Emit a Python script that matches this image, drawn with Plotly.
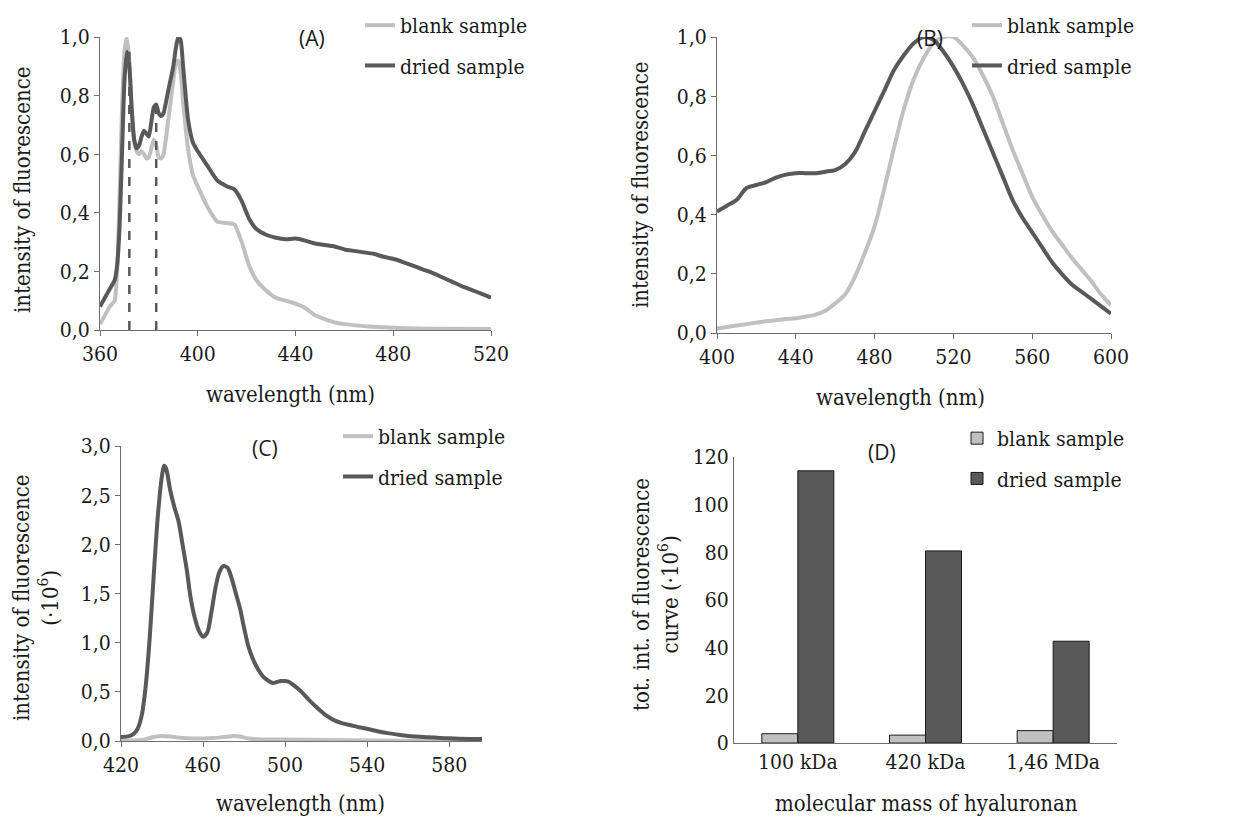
import plotly.graph_objects as go

# ---------------- Panel A data ----------------
a_wl_dried = [360, 362, 364, 366, 367, 368, 369, 370, 371, 372, 373, 374, 375, 376, 377, 378, 379, 380,
              381, 382, 383, 384, 385, 386, 388, 390, 391, 392, 393, 394, 396, 398, 400, 404, 408, 412,
              415, 418, 421, 424, 428, 432, 436, 440, 444, 448, 452, 456, 460, 464, 468, 472, 476, 480,
              484, 488, 492, 496, 500, 504, 508, 512, 516, 520]
a_dried = [0.08, 0.11, 0.14, 0.17, 0.22, 0.35, 0.6, 0.85, 0.95, 0.9, 0.75, 0.65, 0.62, 0.63, 0.66, 0.68, 0.67, 0.66,
           0.71, 0.76, 0.77, 0.74, 0.73, 0.74, 0.82, 0.9, 0.96, 1.0, 0.99, 0.9, 0.72, 0.64, 0.61, 0.56, 0.51, 0.49,
           0.48, 0.44, 0.38, 0.345, 0.325, 0.315, 0.31, 0.312, 0.305, 0.295, 0.29, 0.285, 0.275, 0.27, 0.265, 0.26, 0.25, 0.243,
           0.232, 0.22, 0.207, 0.195, 0.18, 0.165, 0.15, 0.137, 0.124, 0.11]
a_wl_blank = [360, 362, 364, 366, 367, 368, 369, 370, 371, 372, 373, 374, 375, 376, 377, 378, 379, 380,
              381, 382, 383, 384, 385, 386, 388, 390, 391, 392, 393, 394, 396, 398, 400, 404, 408, 412,
              415, 418, 421, 424, 428, 432, 436, 440, 444, 448, 452, 456, 460, 470, 480, 490, 500, 520]
a_blank = [0.02, 0.05, 0.08, 0.1, 0.2, 0.45, 0.75, 0.95, 1.0, 0.92, 0.75, 0.64, 0.61, 0.6, 0.61, 0.6, 0.585, 0.59,
           0.62, 0.65, 0.63, 0.59, 0.585, 0.6, 0.72, 0.85, 0.91, 0.92, 0.88, 0.78, 0.62, 0.53, 0.49, 0.42, 0.37, 0.365,
           0.36, 0.3, 0.22, 0.17, 0.135, 0.11, 0.1, 0.09, 0.075, 0.05, 0.037, 0.026, 0.02, 0.012, 0.008, 0.005, 0.004, 0.003]
a_marker_wl = [372, 383]
a_marker_top = [0.95, 0.77]

# ---------------- Panel B data ----------------
b_wl = [400, 405, 410, 415, 420, 425, 430, 435, 440, 445, 450, 455, 460, 465, 470, 475, 480, 485, 490, 495,
        500, 505, 510, 515, 520, 525, 530, 535, 540, 545, 550, 555, 560, 565, 570, 575, 580, 585, 590, 595, 600]
b_dried = [0.41, 0.43, 0.45, 0.49, 0.5, 0.51, 0.525, 0.535, 0.54, 0.54, 0.54, 0.545, 0.55, 0.57, 0.61, 0.68, 0.75, 0.82, 0.89, 0.94,
           0.98, 1.0, 0.99, 0.95, 0.9, 0.84, 0.77, 0.69, 0.61, 0.53, 0.45, 0.39, 0.34, 0.29, 0.24, 0.2, 0.165, 0.14, 0.115, 0.09, 0.065]
b_blank = [0.015, 0.02, 0.025, 0.03, 0.035, 0.04, 0.043, 0.047, 0.05, 0.055, 0.062, 0.075, 0.1, 0.13, 0.19, 0.27, 0.36, 0.49, 0.63, 0.76,
           0.86, 0.93, 0.98, 1.0, 1.0, 0.97, 0.93, 0.87, 0.8, 0.71, 0.62, 0.54, 0.46, 0.4, 0.345, 0.3, 0.255, 0.215, 0.175, 0.13, 0.094]

# ---------------- Panel C data ----------------
c_wl_dried = [420, 424, 426, 428, 430, 432, 434, 436, 438, 440, 441, 442, 444, 446, 448, 450, 452, 454, 456, 458,
              460, 462, 464, 466, 468, 470, 472, 474, 476, 478, 480, 482, 484, 486, 488, 490, 492, 494, 496, 498,
              500, 502, 504, 508, 512, 516, 520, 524, 528, 532, 536, 540, 545, 550, 555, 560, 570, 580, 590, 596]
c_dried = [0.04, 0.05, 0.07, 0.12, 0.25, 0.55, 1.05, 1.7, 2.3, 2.7, 2.8, 2.77, 2.55, 2.38, 2.24, 2.0, 1.75, 1.45, 1.25, 1.12,
           1.06, 1.1, 1.3, 1.55, 1.72, 1.78, 1.76, 1.65, 1.5, 1.35, 1.15, 0.97, 0.85, 0.76, 0.69, 0.64, 0.61, 0.59, 0.6, 0.61,
           0.61, 0.6, 0.57, 0.5, 0.41, 0.33, 0.26, 0.21, 0.18, 0.16, 0.14, 0.125, 0.1, 0.08, 0.065, 0.052, 0.038, 0.027, 0.021, 0.02]
c_wl_blank = [420, 430, 434, 436, 440, 444, 450, 455, 460, 465, 470, 475, 478, 482, 490, 500, 520, 540, 560, 596]
c_blank = [0.0, 0.01, 0.03, 0.04, 0.05, 0.045, 0.03, 0.025, 0.025, 0.03, 0.04, 0.05, 0.045, 0.025, 0.015, 0.015, 0.01, 0.005, 0.003, 0.002]

# ---------------- Panel D data ----------------
d_categories = ["100 kDa", "420 kDa", "1,46 MDa"]
d_blank = [3.9, 3.3, 5.2]
d_dried = [114.2, 80.6, 42.7]

LIGHT = "#c0c0c0"
DARK = "#595959"
AXIS = "#6e6e6e"
SERIF = "DejaVu Serif Condensed, DejaVu Serif"
SANS = "Open Sans"
OFF = 8  # page body offset
W, H = 1237 - OFF, 818 - OFF


def px_x(v):
    return (v - OFF) / W


def px_y(v):
    return 1 - (v - OFF) / H


fig = go.Figure()

# Panel A
fig.add_trace(go.Scatter(x=a_wl_blank, y=a_blank, mode="lines", name="blank sample",
                         line=dict(color=LIGHT, width=4, shape="spline", smoothing=0.5),
                         xaxis="x", yaxis="y", legend="legend", legendgroup="a1"))
fig.add_trace(go.Scatter(x=a_wl_dried, y=a_dried, mode="lines", name="dried sample",
                         line=dict(color=DARK, width=4, shape="spline", smoothing=0.5),
                         xaxis="x", yaxis="y", legend="legend", legendgroup="a2"))
for wl, top in zip(a_marker_wl, a_marker_top):
    fig.add_trace(go.Scatter(x=[wl, wl], y=[0, top], mode="lines", showlegend=False,
                             line=dict(color=DARK, width=2.5, dash="dash"), xaxis="x", yaxis="y"))

# Panel B
fig.add_trace(go.Scatter(x=b_wl, y=b_blank, mode="lines", name="blank sample",
                         line=dict(color=LIGHT, width=4, shape="spline", smoothing=0.8),
                         xaxis="x2", yaxis="y2", legend="legend2", legendgroup="b1"))
fig.add_trace(go.Scatter(x=b_wl, y=b_dried, mode="lines", name="dried sample",
                         line=dict(color=DARK, width=4, shape="spline", smoothing=0.8),
                         xaxis="x2", yaxis="y2", legend="legend2", legendgroup="b2"))

# Panel C
fig.add_trace(go.Scatter(x=c_wl_blank, y=c_blank, mode="lines", name="blank sample",
                         line=dict(color=LIGHT, width=4, shape="spline", smoothing=0.8),
                         xaxis="x3", yaxis="y3", legend="legend3", legendgroup="c1"))
fig.add_trace(go.Scatter(x=c_wl_dried, y=c_dried, mode="lines", name="dried sample",
                         line=dict(color=DARK, width=4, shape="spline", smoothing=0.8),
                         xaxis="x3", yaxis="y3", legend="legend3", legendgroup="c2"))

# Panel D
fig.add_trace(go.Bar(x=d_categories, y=d_blank, name="blank sample",
                     marker=dict(color=LIGHT, line=dict(color="#1a1a1a", width=1)),
                     xaxis="x4", yaxis="y4", legend="legend4", legendgroup="d1"))
fig.add_trace(go.Bar(x=d_categories, y=d_dried, name="dried sample",
                     marker=dict(color=DARK, line=dict(color="#1a1a1a", width=1)),
                     xaxis="x4", yaxis="y4", legend="legend4", legendgroup="d2"))

tickfont = dict(family=SERIF, size=21, color="#1a1a1a")
common_ax = dict(showline=True, linecolor=AXIS, linewidth=1, showgrid=False, zeroline=False,
                 ticks="outside", ticklen=5, tickcolor=AXIS, tickfont=tickfont, automargin=False)

legend_common = dict(font=dict(family=SERIF, size=21, color="#1a1a1a"), bgcolor="rgba(0,0,0,0)",
                     xanchor="left", yanchor="top", tracegroupgap=10, traceorder="grouped")

fig.update_layout(
    width=W, height=H, margin=dict(l=0, r=0, t=0, b=0, autoexpand=False),
    paper_bgcolor="white", plot_bgcolor="white",
    separators=", ",
    barmode="group", bargap=0.436, bargroupgap=0,
    xaxis=dict(common_ax, domain=[px_x(100), px_x(491)], range=[360, 520], dtick=40, anchor="y"),
    yaxis=dict(common_ax, domain=[px_y(330), px_y(37)], range=[0, 1], dtick=0.2, tickformat=".1f", anchor="x"),
    xaxis2=dict(common_ax, domain=[px_x(717), px_x(1111)], range=[400, 600], dtick=40, anchor="y2"),
    yaxis2=dict(common_ax, domain=[px_y(333), px_y(37)], range=[0, 1], dtick=0.2, tickformat=".1f", anchor="x2"),
    xaxis3=dict(common_ax, domain=[px_x(121), px_x(482)], range=[420, 596], tick0=420, dtick=40, anchor="y3"),
    yaxis3=dict(common_ax, domain=[px_y(741), px_y(446)], range=[0, 3], dtick=0.5, tickformat=".1f", anchor="x3"),
    xaxis4=dict(common_ax, domain=[px_x(734), px_x(1117)], ticks="", anchor="y4"),
    yaxis4=dict(common_ax, domain=[px_y(743), px_y(457)], range=[0, 120], dtick=20, ticks="", anchor="x4"),
    legend=dict(legend_common, x=px_x(360), y=px_y(5)),
    legend2=dict(legend_common, x=px_x(967), y=px_y(5)),
    legend3=dict(legend_common, x=px_x(338), y=px_y(416)),
    legend4=dict(legend_common, x=px_x(957), y=px_y(418)),
)

title_font = dict(family=SERIF, size=22, color="#1a1a1a")
panel_font = dict(family=SANS, size=21, color="#1a1a1a")
annotations = [
    dict(text="(A)", x=px_x(312), y=px_y(38), font=panel_font),
    dict(text="(B)", x=px_x(930), y=px_y(38), font=panel_font),
    dict(text="(C)", x=px_x(265), y=px_y(448), font=panel_font),
    dict(text="(D)", x=px_x(882), y=px_y(452), font=panel_font),
    dict(text="wavelength (nm)", x=px_x(290), y=px_y(394), font=title_font),
    dict(text="wavelength (nm)", x=px_x(900), y=px_y(397), font=title_font),
    dict(text="wavelength (nm)", x=px_x(300), y=px_y(803), font=title_font),
    dict(text="molecular mass of hyaluronan", x=px_x(926), y=px_y(803), font=title_font),
    dict(text="intensity of fluorescence", x=px_x(22), y=px_y(190), textangle=-90, font=title_font),
    dict(text="intensity of fluorescence", x=px_x(640), y=px_y(185), textangle=-90, font=title_font),
    dict(text="intensity of fluorescence<br>(·10<sup>6</sup>)", x=px_x(36), y=px_y(598), textangle=-90, font=title_font),
    dict(text="tot. int. of fluorescence<br>curve (·10<sup>6</sup>)", x=px_x(656), y=px_y(595), textangle=-90, font=title_font),
]
for a in annotations:
    a.update(xref="paper", yref="paper", showarrow=False, xanchor="center", yanchor="middle")
fig.update_layout(annotations=annotations)

fig.write_html("out.html")
